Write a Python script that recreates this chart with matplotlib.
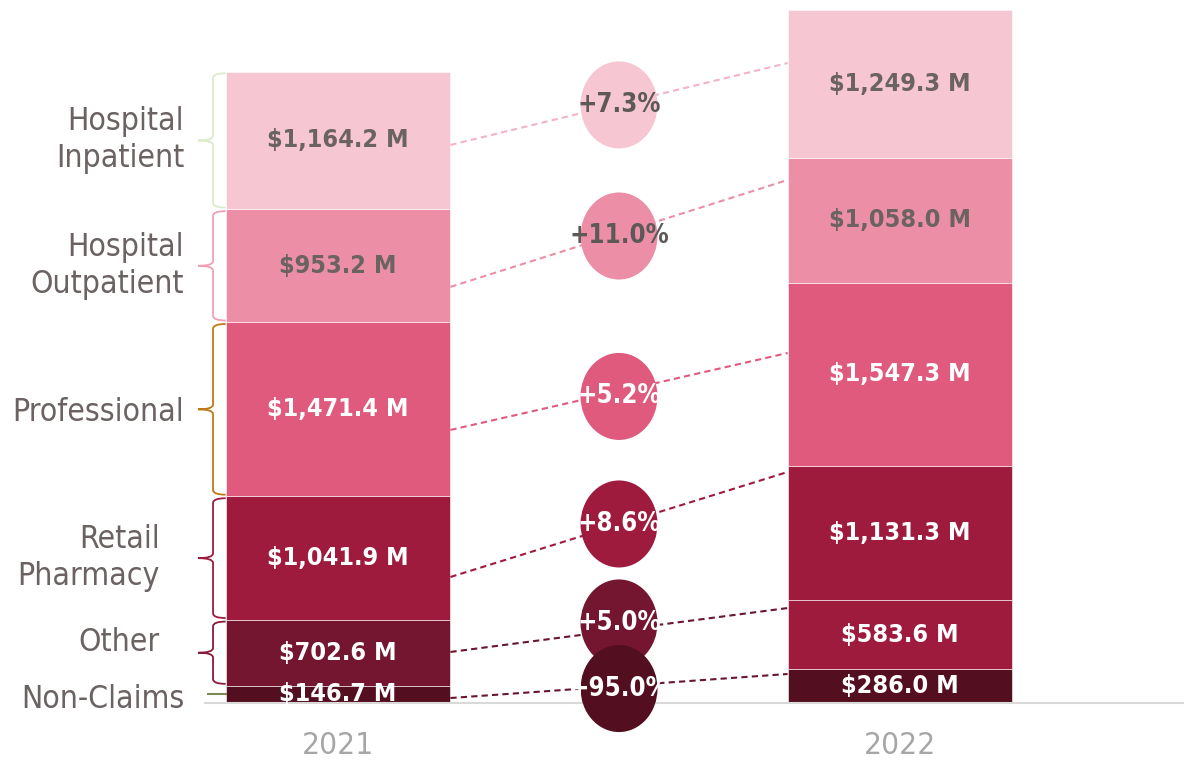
import numpy as np
import matplotlib
matplotlib.use('Agg')
import matplotlib.pyplot as plt
from matplotlib import font_manager
from matplotlib.patches import Ellipse, PathPatch
from matplotlib.path import Path

# look for a condensed face, else fall back to Roboto
family, stretch = 'Roboto', 'normal'
for f in font_manager.fontManager.ttflist:
    n = f.name.lower()
    if 'narrow' in n or 'condensed' in n:
        family = f.name
        break
    if str(f.stretch) in ('condensed', 'semi-condensed', '500', '600') or 'condensed' in f.fname.lower():
        family, stretch = f.name, 'condensed'
        break
plt.rcParams['font.family'] = [family, 'DejaVu Sans']
plt.rcParams['font.stretch'] = stretch

# data ($M), bottom to top
categories = ['Non-Claims', 'Other', 'Retail\nPharmacy', 'Professional',
              'Hospital\nOutpatient', 'Hospital\nInpatient']
vals_2021 = [146.7, 555.8, 1041.9, 1471.4, 953.2, 1164.2]
vals_2022 = [286.0, 583.6, 1131.3, 1547.3, 1058.0, 1249.3]
labels_2021 = ['$146.7 M', '$702.6 M', '$1,041.9 M', '$1,471.4 M', '$953.2 M', '$1,164.2 M']
labels_2022 = ['$286.0 M', '$583.6 M', '$1,131.3 M', '$1,547.3 M', '$1,058.0 M', '$1,249.3 M']
changes = ['+95.0%', '+5.0%', '+8.6%', '+5.2%', '+11.0%', '+7.3%']
years = ['2021', '2022']

# connector ends and bubble heights ($M)
link_left = [42, 431, 1064, 2306, 3514, 4713]
link_right = [245, 802, 1951, 2956, 4417, 5405]
bubble_y = [122, 676, 1512, 2589, 3944, 5051]

colors = ['#530E20', '#74162F', '#9E1B3E', '#E05A7E', '#EC8FA6', '#F6C6D2']
colors_2022 = ['#530E20', '#9E1B3E', '#9E1B3E', '#E05A7E', '#EC8FA6', '#F6C6D2']
line_colors = ['#6A1530', '#6A1530', '#9E1B3E', '#E05A7E', '#EC8FA6', '#F4B3C4']
brace_colors = ['#7A8C4E', '#8B1A3A', '#9E1B3E', '#C07818', '#F0A0B5', '#DDEBC9']
grey = '#6B6262'
dark_text = [False, False, False, False, True, True]

fig = plt.figure(figsize=(11.84, 7.65), dpi=100)
ax = fig.add_axes([205 / 1184, 62 / 765, 979 / 1184, 698.6 / 765])
ax.set_xlim(-0.2367, 1.5053)
ax.set_ylim(0, 5900)

value_texts, pct_texts, cat_texts, year_texts = [], [], [], []

bw = 0.4
for xi, vals, cols, labs in [(0, vals_2021, colors, labels_2021),
                             (1, vals_2022, colors_2022, labels_2022)]:
    bottoms = np.concatenate([[0], np.cumsum(vals)[:-1]])
    ax.bar(xi, vals, bottom=bottoms, width=bw, color=cols,
           edgecolor='white', linewidth=0.4, zorder=2)
    for b, v, lab, dk in zip(bottoms, vals, labs, dark_text):
        value_texts.append(ax.text(xi, b + v / 2, lab, ha='center', va='center',
                                   fontsize=20, fontweight='bold',
                                   color=grey if dk else 'white', zorder=6))

# connectors and bubbles, top first so the lower bubbles sit on top
order = list(range(len(changes)))[::-1]
for k, i in enumerate(order):
    ax.plot([bw / 2, 1 - bw / 2], [link_left[i], link_right[i]],
            color=line_colors[i], lw=1.5, ls=(0, (3, 2)), zorder=3)
    ax.add_patch(Ellipse((0.5, bubble_y[i]), 0.137, 735, color=colors[i],
                         lw=0, zorder=4 + 0.01 * k, clip_on=False))
    pct_texts.append(ax.text(0.5, bubble_y[i], changes[i], ha='center',
                             va='center', fontsize=20, fontweight='bold',
                             color='#5E5959' if dark_text[i] else 'white',
                             zorder=5))

# braces on the left of 2021
xe, xv, xm = -bw / 2, -0.2224, -0.249
cum = np.concatenate([[0], np.cumsum(vals_2021)])
label_x = [-0.274, -0.317, -0.317, -0.274, -0.274, -0.274]
label_dy = [-40, 85, 0, -30, 0, 0]
for i, cat in enumerate(categories):
    bot, top = cum[i], cum[i + 1]
    mid = (bot + top) / 2
    if i == 0:
        ax.plot([-0.231, xe], [mid, mid], color=brace_colors[i], lw=1.5,
                clip_on=False, zorder=2)
    else:
        t, b = top - 15, bot + 15
        r = 40
        verts = [(xe, t), (xv, t), (xv, t - r), (xv, mid + r),
                 (xv, mid), (xm, mid), (xv, mid), (xv, mid - r),
                 (xv, b + r), (xv, b), (xe, b)]
        codes = [Path.MOVETO, Path.CURVE3, Path.CURVE3, Path.LINETO,
                 Path.CURVE3, Path.CURVE3, Path.CURVE3, Path.CURVE3,
                 Path.LINETO, Path.CURVE3, Path.CURVE3]
        ax.add_patch(PathPatch(Path(verts, codes), fill=False,
                               edgecolor=brace_colors[i], lw=1.3,
                               clip_on=False, zorder=2))
    cat_texts.append(ax.text(label_x[i], mid + label_dy[i], cat, ha='right',
                             va='center', ma='right', fontsize=22, color=grey,
                             linespacing=1.25, clip_on=False))

for xi, yr in enumerate(years):
    year_texts.append(ax.text(xi, -355, yr, ha='center', va='center',
                              fontsize=22, color='#A6A6A6', clip_on=False))

for s in ['top', 'right', 'left']:
    ax.spines[s].set_visible(False)
ax.spines['bottom'].set_color('#D9D9D9')
ax.spines['bottom'].set_linewidth(1.5)
ax.set_xticks([])
ax.set_yticks([])

# scale each text group so its widths roughly match the reference
fig.canvas.draw()
rend = fig.canvas.get_renderer()
for group, ref_idx, target in [(value_texts, 5, 142), (pct_texts, 0, 83),
                               (cat_texts, 3, 172), (year_texts, 0, 72)]:
    w = group[ref_idx].get_window_extent(rend).width
    s = target / w
    for t in group:
        t.set_fontsize(t.get_fontsize() * s)

fig.savefig('out.png', dpi=100)
